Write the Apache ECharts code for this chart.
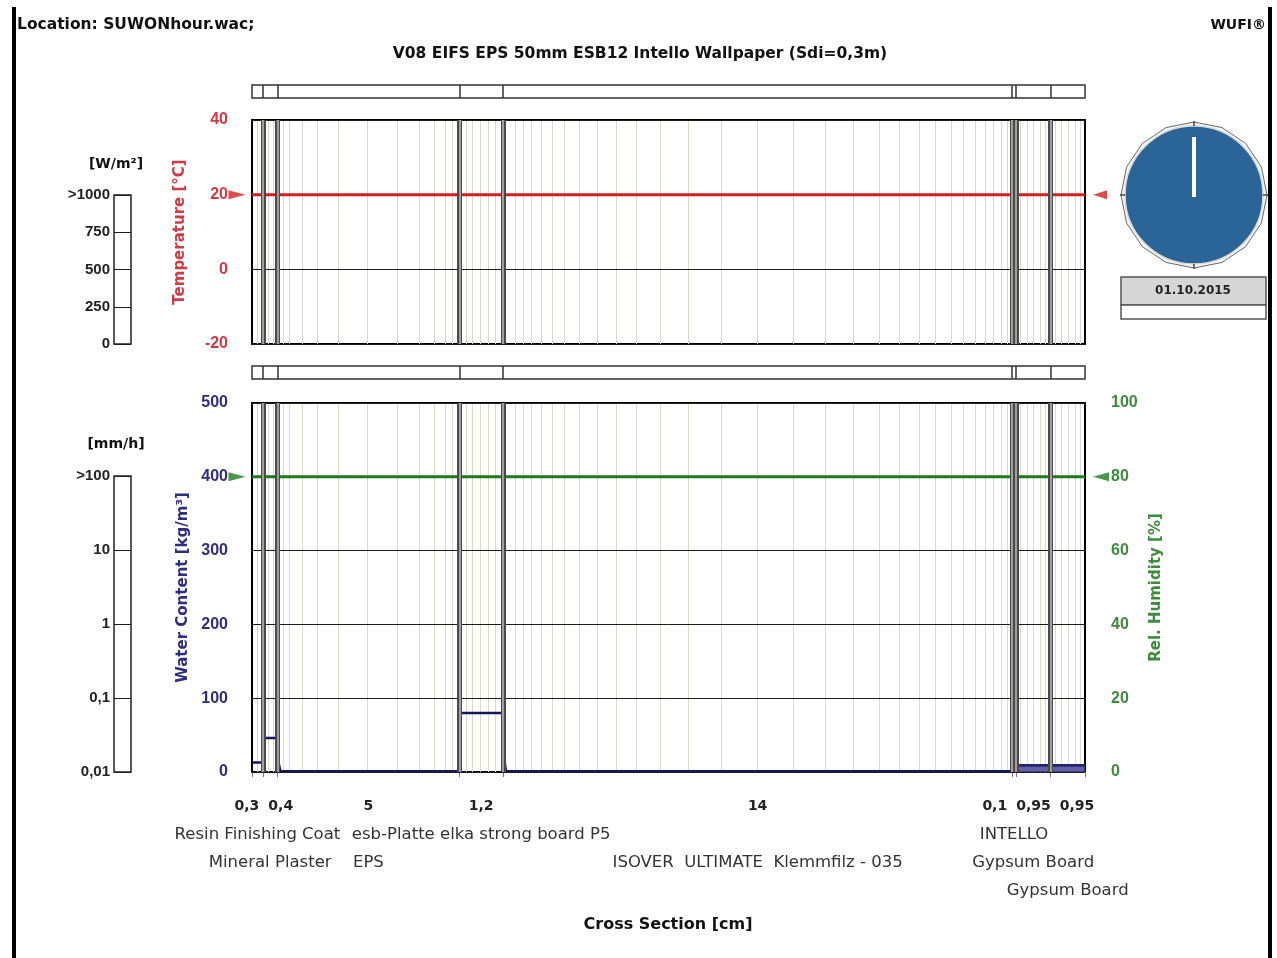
<!DOCTYPE html>
<html><head><meta charset="utf-8">
<script src="https://cdn.jsdelivr.net/npm/echarts@6/dist/echarts.min.js"></script>
<style>html,body{margin:0;padding:0;background:#fff}#c{width:1277px;height:958px}</style>
</head><body><div id="c"></div><script>
// ---------------- data ----------------
const layerNames = ['Resin Finishing Coat', 'Mineral Plaster', 'EPS', 'esb-Platte elka strong board P5',
  'ISOVER  ULTIMATE  Klemmfilz - 035', 'INTELLO', 'Gypsum Board', 'Gypsum Board'];
const layerThickness = [0.3, 0.4, 5, 1.2, 14, 0.1, 0.95, 0.95];           // cm
const thicknessLabels = ['0,3', '0,4', '5', '1,2', '14', '0,1', '0,95', '0,95'];
const temperature = [20, 20, 20, 20, 20, 20, 20, 20];                     // °C
const relHumidity = [80, 80, 80, 80, 80, 80, 80, 80];                     // %
const waterContent = [13, 46, 1, 80, 1, 1, 9, 9];                         // kg/m³
const waterPeakAtStart = [null, null, 20, null, 32, null, null, null];    // kg/m³ at layer inner edge
const meshLines = [0.15, 0.45, 0.58,
  0.85, 1.02, 1.37, 1.79, 2.36, 3.16, 3.99, 4.59, 5.00, 5.31, 5.50,
  5.88, 6.05, 6.27, 6.49, 6.68,
  7.23, 7.45, 7.67, 7.94, 8.25, 8.58, 8.99, 9.48, 10.01, 10.56, 11.22, 11.99, 12.89, 13.88,
  14.87, 15.75, 16.52, 17.24, 17.79, 18.34, 18.78, 19.22, 19.55, 19.88, 20.15, 20.37, 20.59, 20.76,
  21.12, 21.3, 21.48, 21.66, 21.82, 22.08, 22.25, 22.45, 22.62, 22.78];
const tempRange = [-20, 40, 20];
const wcRange = [0, 500, 100];
const rhRange = [0, 100, 20];
const radRange = [0, 1000, 250];
const rainRange = [0.01, 100];
const dateText = '01.10.2015';

// ---------------- derived ----------------
const starts = [], ends = [];
let acc = 0;
layerThickness.forEach(t => { starts.push(+acc.toFixed(4)); acc += t; ends.push(+acc.toFixed(4)); });
const total = ends[ends.length - 1];
const inner = ends.slice(0, -1);
const allBounds = [0].concat(ends);

function stepData(vals) {
  const d = [];
  vals.forEach((v, i) => { d.push([starts[i], v]); d.push([ends[i], v]); });
  return d;
}
const tempData = stepData(temperature);
const rhData = stepData(relHumidity);
const wcData = [];
waterContent.forEach((v, i) => {
  if (waterPeakAtStart[i] != null) {
    wcData.push([starts[i], waterPeakAtStart[i]]);
    wcData.push([starts[i] + 0.08, v]);
  } else wcData.push([starts[i], v]);
  wcData.push([ends[i], v]);
});
const filledLayers = [6, 7];
const wcFill = [];
filledLayers.forEach(i => { wcFill.push([starts[i], waterContent[i]]); wcFill.push([ends[i], waterContent[i]]); });

// ---------------- style ----------------
const FONT = '"DejaVu Sans", "Liberation Sans", sans-serif';
const TFONT = '"Liberation Sans", Arial, sans-serif';
const RED = '#cf3a45', REDLINE = '#d42020';
const NAVY = '#2e2e7e', NAVYLINE = '#15155a';
const GREEN = '#3c8c3c', GREENLINE = '#1f7a1f';

const chart = echarts.init(document.getElementById('c'), null, { renderer: 'canvas' });

const plotW = 833;
const xBase = { type: 'value', min: 0, max: total, axisLine: { show: false }, axisTick: { show: false },
  axisLabel: { show: false }, splitLine: { show: false } };
const hiddenY = { type: 'value', min: 0, max: 1, show: false };

function markLineSeries(xi, yi, values, style, z) {
  return { type: 'line', xAxisIndex: xi, yAxisIndex: yi, data: [], silent: true, z: z,
    markLine: { silent: true, z: z, symbol: 'none', animation: false, label: { show: false },
      lineStyle: style, emphasis: { disabled: true }, data: values.map(v => ({ xAxis: v })) } };
}
const tickLabel = (color, margin, size) => ({ color: color, fontSize: size || 16, fontWeight: 'bold', fontFamily: TFONT, margin: margin });
const axisName = color => ({ color: color, fontSize: 15, fontWeight: 'bold', fontFamily: FONT });
const splitDark = { show: true, lineStyle: { color: '#1e1e1e', width: 1 } };

const option = {
  backgroundColor: '#fff',
  animation: false,
  grid: [
    { left: 252, top: 120, width: plotW, height: 224, show: true, borderColor: '#000', borderWidth: 2, backgroundColor: '#fff' },
    { left: 252, top: 403, width: plotW, height: 369, show: true, borderColor: '#000', borderWidth: 2, backgroundColor: '#fff' },
    { left: 252, top: 85, width: plotW, height: 13, show: true, borderColor: '#333', borderWidth: 1.5 },
    { left: 252, top: 366, width: plotW, height: 13, show: true, borderColor: '#333', borderWidth: 1.5 },
    { left: 114, top: 195, width: 17, height: 149, show: true, borderColor: '#222', borderWidth: 1.5 },
    { left: 114, top: 476, width: 17, height: 296, show: true, borderColor: '#222', borderWidth: 1.5 }
  ],
  xAxis: [
    Object.assign({ gridIndex: 0 }, xBase),
    Object.assign({ gridIndex: 1 }, xBase),
    Object.assign({ gridIndex: 2 }, xBase),
    Object.assign({ gridIndex: 3 }, xBase),
    { gridIndex: 4, type: 'value', min: 0, max: 1, show: false },
    { gridIndex: 5, type: 'value', min: 0, max: 1, show: false },
    { gridIndex: 1, type: 'value', min: 0, max: total, position: 'bottom', offset: 11,
      axisLine: { show: true, lineStyle: { color: '#a0a0a0', width: 1 } },
      axisTick: { show: true, customValues: allBounds, length: 5, lineStyle: { color: '#777', width: 1 } },
      axisLabel: { show: false }, splitLine: { show: false } }
  ],
  yAxis: [
    { gridIndex: 0, z: 2, type: 'value', min: tempRange[0], max: tempRange[1], interval: tempRange[2],
      axisLine: { show: false }, axisTick: { show: false }, axisLabel: tickLabel(RED, 24),
      splitLine: splitDark,
      name: 'Temperature [°C]', nameLocation: 'middle', nameRotate: 90, nameGap: 64, nameTextStyle: axisName(RED) },
    { gridIndex: 1, z: 2, type: 'value', min: wcRange[0], max: wcRange[1], interval: wcRange[2], position: 'left',
      axisLine: { show: false }, axisTick: { show: false }, axisLabel: tickLabel(NAVY, 24),
      splitLine: splitDark,
      name: 'Water Content [kg/m³]', nameLocation: 'middle', nameRotate: 90, nameGap: 60, nameTextStyle: axisName(NAVY) },
    { gridIndex: 1, z: 2, type: 'value', min: rhRange[0], max: rhRange[1], interval: rhRange[2], position: 'right',
      axisLine: { show: false }, axisTick: { show: false }, axisLabel: tickLabel(GREEN, 26),
      splitLine: { show: false },
      name: 'Rel. Humidity [%]', nameLocation: 'middle', nameRotate: 90, nameGap: 57, nameTextStyle: axisName(GREEN) },
    Object.assign({ gridIndex: 2 }, hiddenY),
    Object.assign({ gridIndex: 3 }, hiddenY),
    { gridIndex: 4, type: 'value', min: radRange[0], max: radRange[1], interval: radRange[2],
      axisLine: { show: false }, axisTick: { show: false },
      axisLabel: Object.assign(tickLabel('#222', 4, 15), { formatter: v => v >= radRange[1] ? '>' + v : String(v) }),
      splitLine: splitDark },
    { gridIndex: 5, type: 'log', logBase: 10, min: rainRange[0], max: rainRange[1],
      axisLine: { show: false }, axisTick: { show: false },
      axisLabel: Object.assign(tickLabel('#222', 4, 15), {
        formatter: v => v >= rainRange[1] ? '>' + v : String(+v.toPrecision(6)).replace('.', ',') }),
      splitLine: splitDark }
  ],
  series: [
    // numerical mesh
    markLineSeries(0, 0, meshLines, { color: '#d8d8cc', width: 1, type: 'solid' }, 1),
    markLineSeries(1, 1, meshLines, { color: '#dadcc8', width: 1, type: 'solid' }, 1),
    // temperature
    { type: 'line', xAxisIndex: 0, yAxisIndex: 0, data: tempData, showSymbol: false, symbol: 'none', z: 3,
      lineStyle: { color: REDLINE, width: 3 }, itemStyle: { color: REDLINE } },
    // RH
    { type: 'line', xAxisIndex: 1, yAxisIndex: 2, data: rhData, showSymbol: false, symbol: 'none', z: 3,
      lineStyle: { color: GREENLINE, width: 3 }, itemStyle: { color: GREENLINE } },
    // water content
    { type: 'line', xAxisIndex: 1, yAxisIndex: 1, data: wcData, showSymbol: false, symbol: 'none', z: 3,
      lineStyle: { color: NAVYLINE, width: 2.5 }, itemStyle: { color: NAVYLINE } },
    { type: 'line', xAxisIndex: 1, yAxisIndex: 1, data: wcFill, showSymbol: false, symbol: 'none', z: 3,
      lineStyle: { color: '#26267a', width: 2 }, areaStyle: { color: '#45459a', opacity: 0.85 } },
    // layer boundaries
    markLineSeries(0, 0, inner, { color: '#4a4a4a', width: 5, type: 'solid' }, 6),
    markLineSeries(0, 0, inner, { color: '#bdbdbd', width: 1.5, type: 'solid' }, 7),
    markLineSeries(1, 1, inner, { color: '#4a4a4a', width: 5, type: 'solid' }, 6),
    markLineSeries(1, 1, inner, { color: '#bdbdbd', width: 1.5, type: 'solid' }, 7),
    markLineSeries(2, 3, inner, { color: '#333', width: 1.5, type: 'solid' }, 6),
    markLineSeries(3, 4, inner, { color: '#333', width: 1.5, type: 'solid' }, 6),
    // arrows
    { type: 'scatter', xAxisIndex: 0, yAxisIndex: 0, clip: false, z: 8, data: [[0, temperature[0]]],
      symbol: 'triangle', symbolRotate: -90, symbolSize: [9, 17], symbolOffset: [-15, 0], itemStyle: { color: REDLINE } },
    { type: 'scatter', xAxisIndex: 0, yAxisIndex: 0, clip: false, z: 8, data: [[total, temperature[temperature.length - 1]]],
      symbol: 'triangle', symbolRotate: 90, symbolSize: [9, 14], symbolOffset: [15, 0], itemStyle: { color: REDLINE } },
    { type: 'scatter', xAxisIndex: 1, yAxisIndex: 2, clip: false, z: 8, data: [[0, relHumidity[0]]],
      symbol: 'triangle', symbolRotate: -90, symbolSize: [9, 17], symbolOffset: [-15, 0], itemStyle: { color: GREENLINE } },
    { type: 'scatter', xAxisIndex: 1, yAxisIndex: 2, clip: false, z: 8, data: [[total, relHumidity[relHumidity.length - 1]]],
      symbol: 'triangle', symbolRotate: 90, symbolSize: [9, 16], symbolOffset: [16, 0], itemStyle: { color: GREENLINE } }
  ]
};
chart.setOption(option);

// ---------------- texts and decorations ----------------
const ctx = document.createElement('canvas').getContext('2d');
function tw(text, font) { ctx.font = font; return ctx.measureText(text).width; }
function txt(text, x, y, font, fill, align) {
  return { type: 'text', silent: true, z: 20,
    style: { text: text, x: x, y: y, font: font, fill: fill, align: align || 'center', verticalAlign: 'middle',
      textAlign: align || 'center', textVerticalAlign: 'middle' } };
}
function spread(centers, widths, gap) {
  const groups = [];
  centers.forEach((c, i) => {
    groups.push({ idx: [i], w: widths[i], c: c });
    while (groups.length > 1) {
      const g = groups[groups.length - 1], p = groups[groups.length - 2];
      if (p.c + p.w / 2 + gap > g.c - g.w / 2) {
        const idx = p.idx.concat(g.idx);
        const c2 = idx.reduce((s, k) => s + centers[k], 0) / idx.length;
        groups.splice(-2, 2, { idx: idx, w: p.w + gap + g.w, c: c2 });
      } else break;
    }
  });
  const out = [];
  groups.forEach(g => { let x = g.c - g.w / 2; g.idx.forEach(k => { out[k] = x + widths[k] / 2; x += widths[k] + gap; }); });
  return out;
}

const els = [];
const HEAD = 'bold 15.5px ' + FONT;
els.push({ type: 'rect', silent: true, shape: { x: 12, y: 7, width: 4, height: 951 }, style: { fill: '#000' } });
els.push({ type: 'rect', silent: true, shape: { x: 1268, y: 7, width: 4, height: 951 }, style: { fill: '#000' } });
els.push(txt('Location: SUWONhour.wac;', 17, 25, HEAD, '#111', 'left'));
els.push(txt('WUFI®', 1266, 25, 'bold 14px ' + FONT, '#111', 'right'));
els.push(txt('V08 EIFS EPS 50mm ESB12 Intello Wallpaper (Sdi=0,3m)', 640, 54, HEAD, '#111', 'center'));
els.push(txt('[W/m²]', 116, 164, 'bold 14px ' + FONT, '#111', 'center'));
els.push(txt('[mm/h]', 116, 444, 'bold 14px ' + FONT, '#111', 'center'));
els.push(txt('Cross Section [cm]', 668, 925, 'bold 16px ' + FONT, '#111', 'center'));

// clock
const cx = 1194, cy = 195;
const poly = [];
for (let k = 0; k < 16; k++) { const a = k / 16 * Math.PI * 2; poly.push([cx + 73 * Math.sin(a), cy - 73 * Math.cos(a)]); }
els.push({ type: 'polygon', silent: true, shape: { points: poly }, style: { fill: '#f4f4f4', stroke: '#6a6a6a', lineWidth: 1 } });
els.push({ type: 'circle', silent: true, shape: { cx: cx, cy: cy, r: 69 }, style: { fill: '#2b6496', stroke: '#d8d8d8', lineWidth: 1.5 } });
[[0, -1], [1, 0], [0, 1], [-1, 0]].forEach(d => {
  els.push({ type: 'line', silent: true, shape: { x1: cx + d[0] * 69, y1: cy + d[1] * 69, x2: cx + d[0] * 74, y2: cy + d[1] * 74 },
    style: { stroke: '#444', lineWidth: 1.5 } });
});
els.push({ type: 'line', silent: true, shape: { x1: cx, y1: cy + 2, x2: cx, y2: 137 }, style: { stroke: '#fff', lineWidth: 4 } });
els.push({ type: 'rect', silent: true, shape: { x: 1121, y: 277, width: 145, height: 28 }, style: { fill: '#d6d6d6', stroke: '#555', lineWidth: 1.5 } });
els.push({ type: 'rect', silent: true, shape: { x: 1121, y: 305, width: 145, height: 14 }, style: { fill: '#fff', stroke: '#555', lineWidth: 1.5 } });
els.push(txt(dateText, 1193, 291, 'bold 12px ' + FONT, '#222', 'center'));

// layer labels
const centers = layerThickness.map((t, i) => chart.convertToPixel({ xAxisIndex: 1 }, starts[i] + t / 2));
const TH_FONT = 'bold 14px ' + FONT;
const thW = thicknessLabels.map(s => tw(s, TH_FONT));
const thX = spread(centers, thW, 9);
thicknessLabels.forEach((s, i) => els.push(txt(s, thX[i], 806, TH_FONT, '#222', 'center')));
const nameRow = [0, 1, 1, 0, 1, 0, 1, 2];
const rowY = [835, 863, 891];
const NM_FONT = '16.5px ' + FONT;
layerNames.forEach((s, i) => els.push(txt(s, centers[i], rowY[nameRow[i]], NM_FONT, '#333', 'center')));

chart.setOption({ graphic: { elements: els } });
</script></body></html>
